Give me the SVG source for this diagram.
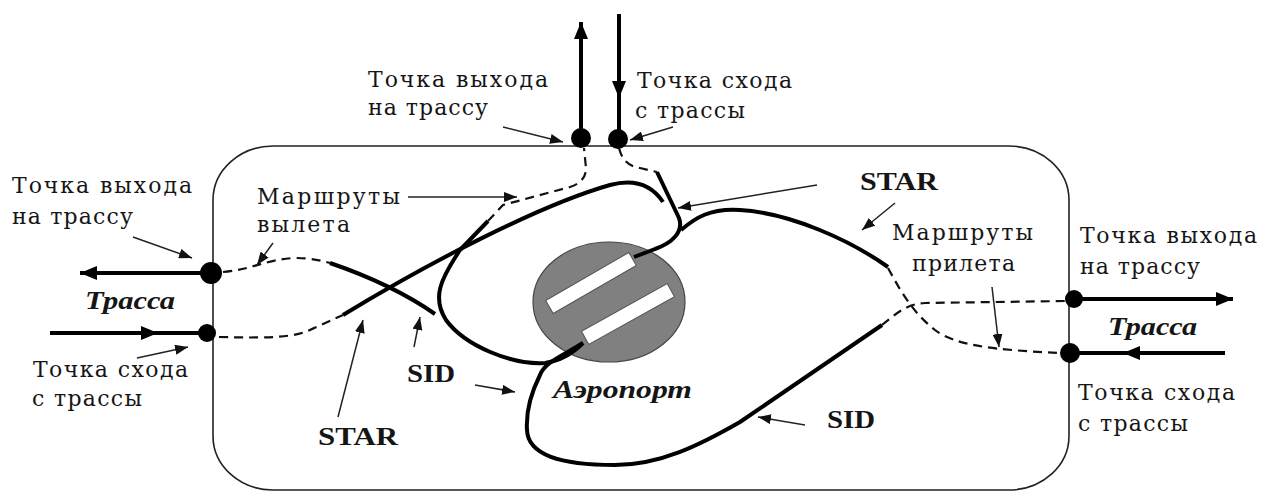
<svg xmlns="http://www.w3.org/2000/svg" width="1262" height="492" viewBox="0 0 1262 492">
<style>
.lbl{font-family:"DejaVu Serif","Liberation Serif",serif;font-size:22px;fill:#151515}
.bold{font-family:"Liberation Serif","DejaVu Serif",serif;font-size:26px;font-weight:bold;fill:#151515}
.bi{font-family:"Liberation Serif","DejaVu Serif",serif;font-size:25px;font-weight:bold;font-style:italic;fill:#151515}
.route{fill:none;stroke:#000;stroke-width:4;stroke-linecap:butt;stroke-linejoin:round}
.dash{fill:none;stroke:#111;stroke-width:2.2;stroke-dasharray:9 6}
.thin{fill:none;stroke:#222;stroke-width:1.5;marker-end:url(#ah)}
.trunk{fill:none;stroke:#000;stroke-width:4}
.dot{fill:#000}
</style>
<defs>
<marker id="ah" markerUnits="userSpaceOnUse" markerWidth="14" markerHeight="10" refX="13" refY="5" orient="auto"><path d="M0,0 L13,5 L0,10 z" fill="#111"/></marker>
<marker id="big" markerUnits="userSpaceOnUse" markerWidth="18" markerHeight="16" refX="17" refY="8" orient="auto"><path d="M0,1 L17,8 L0,15 z" fill="#000"/></marker>
</defs>
<rect width="1262" height="492" fill="#fff"/>
<g id="zone"><rect x="213" y="146" width="856" height="344" rx="60" ry="54" fill="none" stroke="#222" stroke-width="1.6"/></g>
<g id="airport">
<ellipse cx="609" cy="302" rx="76" ry="60" fill="#808080" stroke="#444" stroke-width="1.2"/>
<rect x="-48" y="-7.5" width="96" height="15" transform="translate(591,283) rotate(-30)" fill="#fff" stroke="#555" stroke-width="1"/>
<rect x="-49" y="-7.5" width="98" height="15" transform="translate(628,314) rotate(-29)" fill="#fff" stroke="#555" stroke-width="1"/>
</g>
<g id="connectors">
<path class="trunk" d="M581,130 L581,22" marker-end="url(#big)"/>
<path class="trunk" d="M619,14 L619,98 L619,132" marker-mid="url(#big)"/>
<path class="trunk" d="M205,273 L80,273" marker-end="url(#big)"/>
<path class="trunk" d="M50,333 L158,333 L205,333" marker-mid="url(#big)"/>
<path class="trunk" d="M1078,299 L1233,299" marker-end="url(#big)"/>
<path class="trunk" d="M1225,353 L1123,353 L1072,353" marker-mid="url(#big)"/>
<path class="dash" d="M223,272 C250,270 268,259 295,258 C312,258 322,261 330,263"/>
<path class="dash" d="M219,337 C260,338 288,338 305,332 C320,326 333,319 343,315"/>
<path class="dash" d="M488,221 L503,205 L570,187 Q586,182 586,168 L584,148"/>
<path class="dash" d="M619,148 C622,160 628,166 640,168 L657,172"/>
<path class="dash" d="M882,325 C895,315 905,304 925,303 L1066,301"/>
<path class="dash" d="M888,268 C900,290 912,312 935,330 C955,345 990,350 1062,353"/>
<path class="route" d="M330,263 C365,275 405,293 435,314"/>
<path class="route" d="M343,315 C430,262 540,205 610,185 C640,177 655,190 663,202"/>
<path class="route" d="M583,343 Q566,360 545,363 C512,365 465,346 446,320 C432,298 440,280 460,250 L488,221"/>
<path class="route" d="M583,343 C562,356 545,362 540,375 C530,395 526,415 527,430 C528,455 560,465 615,465 C660,465 700,445 740,422 L882,325"/>
<path class="route" d="M657,172 L679,218 C684,232 672,243 655,249 L634,257"/>
<path class="route" d="M888,267 C850,240 790,213 740,210 C710,208 695,218 681,230"/>
<path class="thin" d="M503,127 L563,142"/>
<path class="thin" d="M673,127 L630,140"/>
<path class="thin" d="M133,237 L192,258"/>
<path class="thin" d="M137,358 L188,347"/>
<path class="thin" d="M408,197 L517,197"/>
<path class="thin" d="M273,243 L257,265"/>
<path class="thin" d="M338,417 L363,320"/>
<path class="thin" d="M414,347 L420,317"/>
<path class="thin" d="M475,385 L515,392"/>
<path class="thin" d="M805,425 L758,417"/>
<path class="thin" d="M895,203 L862,230"/>
<path class="thin" d="M817,185 L678,208"/>
<path class="thin" d="M992,287 L999,347"/>
</g>
<g id="points">
<circle class="dot" cx="581" cy="138" r="10"/>
<circle class="dot" cx="618" cy="139" r="10"/>
<circle class="dot" cx="211" cy="273" r="11"/>
<circle class="dot" cx="207" cy="333" r="9"/>
<circle class="dot" cx="1074" cy="299" r="9"/>
<circle class="dot" cx="1070" cy="353" r="10"/>
</g>
<g id="label-top-exit"><text class="lbl" x="368" y="87" textLength="180">Точка выхода</text><text class="lbl" x="368" y="115" textLength="120">на трассу</text></g>
<g id="label-top-entry"><text class="lbl" x="637" y="88" textLength="155">Точка схода</text><text class="lbl" x="635" y="118" textLength="110">с трассы</text></g>
<g id="label-left-exit"><text class="lbl" x="12" y="193" textLength="180">Точка выхода</text><text class="lbl" x="12" y="224" textLength="121">на трассу</text></g>
<g id="label-left-entry"><text class="lbl" x="33" y="377" textLength="155">Точка схода</text><text class="lbl" x="32" y="406" textLength="110">с трассы</text></g>
<g id="label-right-exit"><text class="lbl" x="1080" y="243" textLength="177">Точка выхода</text><text class="lbl" x="1080" y="274" textLength="120">на трассу</text></g>
<g id="label-right-entry"><text class="lbl" x="1078" y="400" textLength="157">Точка схода</text><text class="lbl" x="1078" y="431" textLength="110">с трассы</text></g>
<g id="label-departures"><text class="lbl" x="257" y="204" textLength="143">Маршруты</text><text class="lbl" x="257" y="232" textLength="93">вылета</text></g>
<g id="label-arrivals"><text class="lbl" x="892" y="240" textLength="141">Маршруты</text><text class="lbl" x="912" y="271" textLength="103">прилета</text></g>
<g id="label-star-top"><text class="bold" x="860" y="190" textLength="78" lengthAdjust="spacingAndGlyphs">STAR</text></g>
<g id="label-star-bottom"><text class="bold" x="318" y="445" textLength="80" lengthAdjust="spacingAndGlyphs">STAR</text></g>
<g id="label-sid-left"><text class="bold" x="407" y="382" textLength="48" lengthAdjust="spacingAndGlyphs">SID</text></g>
<g id="label-sid-right"><text class="bold" x="827" y="428" textLength="48" lengthAdjust="spacingAndGlyphs">SID</text></g>
<g id="label-trassa-left"><text class="bi" x="85" y="309" textLength="90" lengthAdjust="spacingAndGlyphs">Трасса</text></g>
<g id="label-trassa-right"><text class="bi" x="1108" y="335" textLength="89" lengthAdjust="spacingAndGlyphs">Трасса</text></g>
<g id="label-airport"><text class="bi" x="553" y="398" textLength="139" lengthAdjust="spacingAndGlyphs">Аэропорт</text></g>
</svg>
